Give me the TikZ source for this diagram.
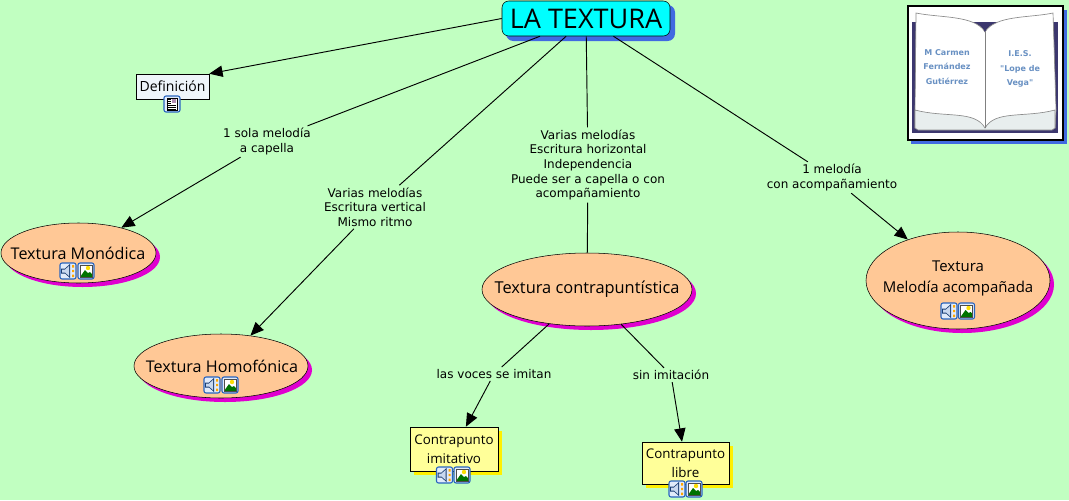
\documentclass[tikz,border=0pt]{standalone}
\usepackage{fontspec}
\usepackage{tikz}
\usetikzlibrary{shapes.geometric,arrows.meta}
\setmainfont{DejaVu Sans}
\newfontfamily\conceptfont{Open Sans}
\newfontfamily\bookfont{DejaVu Sans}
\definecolor{mapGreen}{RGB}{193, 255, 193}
\definecolor{titleCyan}{RGB}{0, 255, 255}
\definecolor{titleShadow}{RGB}{65, 105, 225}
\definecolor{ovalPeach}{RGB}{255, 200, 150}
\definecolor{ovalShadow}{RGB}{224, 0, 208}
\definecolor{boxYellow}{RGB}{255, 255, 153}
\definecolor{boxShadow}{RGB}{255, 240, 0}
\definecolor{defWhite}{RGB}{238, 245, 250}
\definecolor{iconBlue}{RGB}{40, 100, 190}
\definecolor{iconPale}{RGB}{225, 235, 250}
\definecolor{bookNavy}{RGB}{60, 55, 110}
\definecolor{bookInk}{RGB}{105, 145, 195}
\definecolor{bookGrey}{RGB}{232, 238, 238}
\tikzset{
  oval/.style={ellipse, draw=black, fill=ovalPeach, inner sep=0pt},
  ovalback/.style={ellipse, fill=ovalShadow, inner sep=0pt},
  ovaltext/.style={align=center, inner sep=0pt, font=\conceptfont\fontsize{12.3pt}{15.8pt}\selectfont},
  notebox/.style={rectangle, draw=black, fill=boxYellow, inner sep=0pt, align=center,
    font=\conceptfont\fontsize{10pt}{14.2pt}\selectfont},
  linklabel/.style={align=center, inner sep=1.5pt, font=\fontsize{9pt}{11pt}\selectfont},
  booktext/.style={text=bookInk, align=center, inner sep=0pt, font=\bookfont\bfseries\fontsize{6pt}{10.8pt}\selectfont},
  link/.style={black, line width=0.7pt},
  linkarrow/.style={link, -{Triangle[length=10pt,width=8.5pt]}},
  iconframe/.style={draw=iconBlue, fill=iconPale, line width=0.8pt, rounded corners=1.5pt},
  soundicon/.pic={
    \draw[iconframe] (-8,-8) rectangle (8,8);
    \fill[iconBlue!60!black] (-7,-2.5) -- (-3,-2.5) -- (2,-7) -- (2,7) -- (-3,2.5) -- (-7,2.5) -- cycle;
    \fill[iconBlue!25!white] (-6,-1.5) -- (-3,-1.5) -- (1,-5) -- (1,5) -- (-3,1.5) -- (-6,1.5) -- cycle;
    \fill[orange!70!yellow] (4,-6) rectangle (6,-3.5) (4,-1.2) rectangle (6,1.2) (4,3.5) rectangle (6,6);
  },
  imageicon/.pic={
    \draw[iconframe] (-8,-8) rectangle (8,8);
    \fill[white] (-6,-6) rectangle (6,6);
    \fill[yellow!80!orange] (2,-3) circle (2.2);
    \fill[green!45!black] (-6,6) -- (-1,-1) -- (2,2) -- (4,1) -- (6,3) -- (6,6) -- cycle;
    \draw[black!70, line width=0.4pt] (-6,-6) rectangle (6,6);
  },
  texticon/.pic={
    \draw[iconframe] (-8,-8) rectangle (8,8);
    \fill[white] (-5,-6) rectangle (5,6);
    \fill[orange!50!blue!60!white] (0,-5) rectangle (4,-1);
    \draw[black, line width=0.5pt] (-4,-5) -- (-1,-5) (-4,-3) -- (-1,-3) (-4,-1) -- (-1,-1)
      (-4,1) -- (4,1) (-4,3) -- (4,3) (-4,5) -- (4,5);
    \draw[black, line width=0.4pt] (-5,-6) rectangle (5,6);
  },
}
\begin{document}
\begin{tikzpicture}[x=0.75pt, y=-0.75pt]
        \useasboundingbox[fill=mapGreen] (0,0) rectangle (1069,500);

        % shadows
        \fill[titleShadow, rounded corners=5.5pt] (506,5) rectangle (675,41);
        \node[ovalback, minimum width=116.25pt, minimum height=45pt] at (82.5,257) {};
        \node[ovalback, minimum width=130.5pt, minimum height=48pt] at (225,370) {};
        \node[ovalback, minimum width=157.5pt, minimum height=54.75pt] at (591,293.5) {};
        \node[ovalback, minimum width=138pt, minimum height=72.75pt] at (962,284.5) {};
        \fill[boxShadow] (414,431) rectangle (502,475);
        \fill[boxShadow] (646,446) rectangle (733,488);

        % concepts
        \node[draw=black, fill=titleCyan, rounded corners=5pt, minimum width=126pt, minimum height=26.25pt,
          inner sep=0pt, font=\conceptfont\fontsize{20.3pt}{24pt}\selectfont] (title) at (586,18.5) {LA TEXTURA};
        \node[draw=black, fill=defWhite, minimum width=54.75pt, minimum height=18.75pt, inner sep=0pt,
          font=\conceptfont\fontsize{10.5pt}{13pt}\selectfont] (def) at (172.5,86.5) {Definición};
        \node[oval, minimum width=116.25pt, minimum height=45pt] (mono) at (78.5,253) {};
        \node[oval, minimum width=130.5pt, minimum height=48pt] (homo) at (221,366) {};
        \node[oval, minimum width=157.5pt, minimum height=54.75pt] (contra) at (587,289.5) {};
        \node[oval, minimum width=138pt, minimum height=72.75pt] (acomp) at (958,280.5) {};
        \node[ovaltext, font=\conceptfont\fontsize{12.1pt}{15.8pt}\selectfont] (monotext) at (78,253) {Textura Monódica};
        \node[ovaltext, font=\conceptfont\fontsize{12.1pt}{15.8pt}\selectfont] (homotext) at (222,366) {Textura Homofónica};
        \node[ovaltext] (contratext) at (587,289) {Textura contrapuntística};
        \node[ovaltext, font=\conceptfont\fontsize{11.2pt}{15.8pt}\selectfont] (acomptext) at (958,278) {Textura\\Melodía acompañada};
        \node[notebox, minimum width=66pt, minimum height=33pt] (imit) at (454,449)
          {Contrapunto\\imitativo};
        \node[notebox, minimum width=65.25pt, minimum height=31.5pt] (libre) at (685.5,463)
          {Contrapunto\\libre};

        % linking phrases
        \node[linklabel] (sola) at (267,141.5) {1 sola melodía\\a capella};
        \node[linklabel] (vert) at (375,207) {Varias melodías\\Escritura vertical\\Mismo ritmo};
        \node[linklabel] (horiz) at (588,165) {Varias melodías\\Escritura horizontal\\Independencia\\Puede ser a capella o con\\acompañamiento};
        \node[linklabel] (conac) at (832,177.5) {1 melodía\\con acompañamiento};
        \node[linklabel] (imitan) at (494,374) {las voces se imitan};
        \node[linklabel] (sinim) at (671,375) {sin imitación};

        % connectors
        \draw[linkarrow] (title.west) -- (def.north east);
        \draw[link] (title) -- (sola);
        \draw[linkarrow] (sola) -- (mono);
        \draw[link] (title) -- (vert);
        \draw[linkarrow] (vert) -- (homo);
        \draw[link] (title) -- (horiz);
        \draw[link] (horiz) -- (contra);
        \draw[link] (title) -- (conac);
        \draw[linkarrow] (conac) -- (acomp);
        \draw[link] (contra) -- (imitan);
        \draw[linkarrow] (imitan) -- (imit);
        \draw[link] (contra) -- (sinim);
        \draw[linkarrow] (sinim) -- (libre);

        % icons
        \pic at (172,104) {texticon};
        \pic at (68,271) {soundicon};
        \pic at (86,271) {imageicon};
        \pic at (212,385) {soundicon};
        \pic at (230,385) {imageicon};
        \pic at (949,311) {soundicon};
        \pic at (966.5,311) {imageicon};
        \pic at (444.5,475) {soundicon};
        \pic at (462,475) {imageicon};
        \pic at (677,489) {soundicon};
        \pic at (694,489) {imageicon};

        % book picture
        \fill[titleShadow] (911,10) rectangle (1067,144);
        \draw[black, fill=white, line width=0.8pt] (908,6) rectangle (1063,140);
        \fill[bookNavy] (912,22) rectangle (1058,133);
        \fill[white, draw=black!45, line width=0.5pt] (916,13) .. controls (940,18) and (975,15) .. (985,32)
          .. controls (995,15) and (1030,18) .. (1053,13) -- (1056,110) -- (1055,128) -- (915,128) -- (915,112) -- cycle;
        \fill[bookGrey, draw=black!45, line width=0.5pt] (915,110) .. controls (945,118) and (975,110) .. (985,128)
          .. controls (995,110) and (1025,118) .. (1055,110) -- (1055,128) -- (1052,130) -- (918,130) -- (915,128) -- cycle;
        \fill[bookNavy] (980,22) -- (989,22) -- (985,32) -- cycle;
        \draw[black!50, line width=0.5pt] (985,32) -- (985,128);
        \node[booktext] (author) at (947,67) {M Carmen\\Fernández\\Gutiérrez};
        \node[booktext] (school) at (1020,69) {I.E.S.\\"Lope de\\Vega"};
      \end{tikzpicture}
\end{document}
